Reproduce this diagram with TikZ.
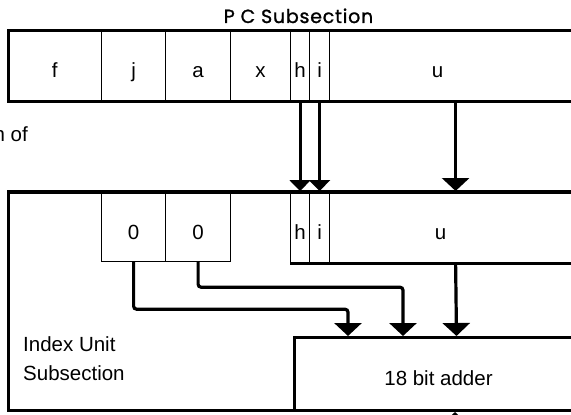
\documentclass[tikz,border=0pt]{standalone}
\usepackage{fontspec}
\setmainfont{Liberation Sans}
\newfontfamily\titlefont{Poppins}[LetterSpace=4, FakeBold=1.2]
\usetikzlibrary{arrows.meta}

\begin{document}
\begin{tikzpicture}[x=1pt,y=-1pt,
  heavy/.style={line width=3pt},
  frame/.style={draw, line width=3pt, inner sep=0pt, anchor=north west},
  cell/.style={draw, line width=1.2pt, inner sep=0pt, anchor=north west,
    text height=27pt, text depth=2pt, font=\fontsize{20.5}{24}\selectfont},
  opencell/.style={cell, draw=none},
  bigflow/.style={line width=3.2pt, -{Triangle[width=27pt,length=13pt]}},
  smallflow/.style={line width=3.2pt, -{Triangle[width=21pt,length=11pt]}},
  label/.style={inner sep=0pt, font=\fontsize{20.5}{29}\selectfont}
]
\useasboundingbox (0,0) rectangle (571,415);
\clip (0,0) rectangle (571,415);

% ---- PC subsection register ----
\node[label, font=\titlefont\fontsize{19}{22}\selectfont, anchor=base] (title) at (298.5,23) {P C Subsection};

\node[cell, minimum width=94pt, minimum height=71pt] (f) at (7,29) {f};
\node[cell, minimum width=64pt, minimum height=71pt] (j) at (101,29) {j};
\node[cell, minimum width=65pt, minimum height=71pt] (a) at (165,29) {a};
\node[cell, minimum width=60pt, minimum height=71pt] (x) at (230,29) {x};
\node[cell, minimum width=19pt, minimum height=71pt] (h1) at (290,29) {h};
\node[cell, minimum width=20pt, minimum height=71pt] (i1) at (309,29) {i};
\node[opencell, minimum width=216pt, minimum height=71pt] (u1) at (329,29) {u};
\node[frame, minimum width=600pt, minimum height=71pt] (pc) at (7,29) {};

\node[label, anchor=base east] (cut) at (28,141) {n of};

% ---- Index unit subsection ----
\node[frame, minimum width=600pt, minimum height=218pt] (iu) at (7,191) {};

\node[cell, minimum width=64pt, minimum height=70pt] (z1) at (101,191) {0};
\node[cell, minimum width=65pt, minimum height=70pt] (z2) at (165,191) {0};
\node[cell, minimum width=19pt, minimum height=71pt] (h2) at (290,191) {h};
\node[cell, minimum width=20pt, minimum height=71pt] (i2) at (309,191) {i};
\node[opencell, minimum width=222pt, minimum height=71pt] (u2) at (329,191) {u};
\draw[heavy] (h2.south west) -- ++(300,0);
\draw[heavy] (iu.north west) -- ++(600,0);

\node[frame, minimum width=288pt, minimum height=73pt,
  text height=25pt, text depth=2pt, font=\fontsize{20.5}{24}\selectfont] (adder) at (293,336) {18 bit adder};

\node[label, align=left, anchor=north west] (iulabel) at (23,336) {Index Unit\\Subsection};

% ---- transfers ----
\draw[smallflow] (h1.south) -- (h2.north);
\draw[smallflow] (i1.south) -- (i2.north);
\draw[bigflow] ([xshift=18pt]u1.south) -- ([xshift=15pt]u2.north);

\draw[bigflow, rounded corners=3pt] (z1.south) -- ++(0,47) -| ([xshift=55pt]adder.north west);
\draw[bigflow, rounded corners=3pt] (z2.south) -- ++(0,25) -| ([xshift=110pt]adder.north west);
\draw[bigflow] ([xshift=15pt]u2.south) -- ([xshift=18pt]adder.north);

\coordinate (feed) at (455,450);
\draw[bigflow] (feed) -- (feed |- adder.south);
\end{tikzpicture}
\end{document}
